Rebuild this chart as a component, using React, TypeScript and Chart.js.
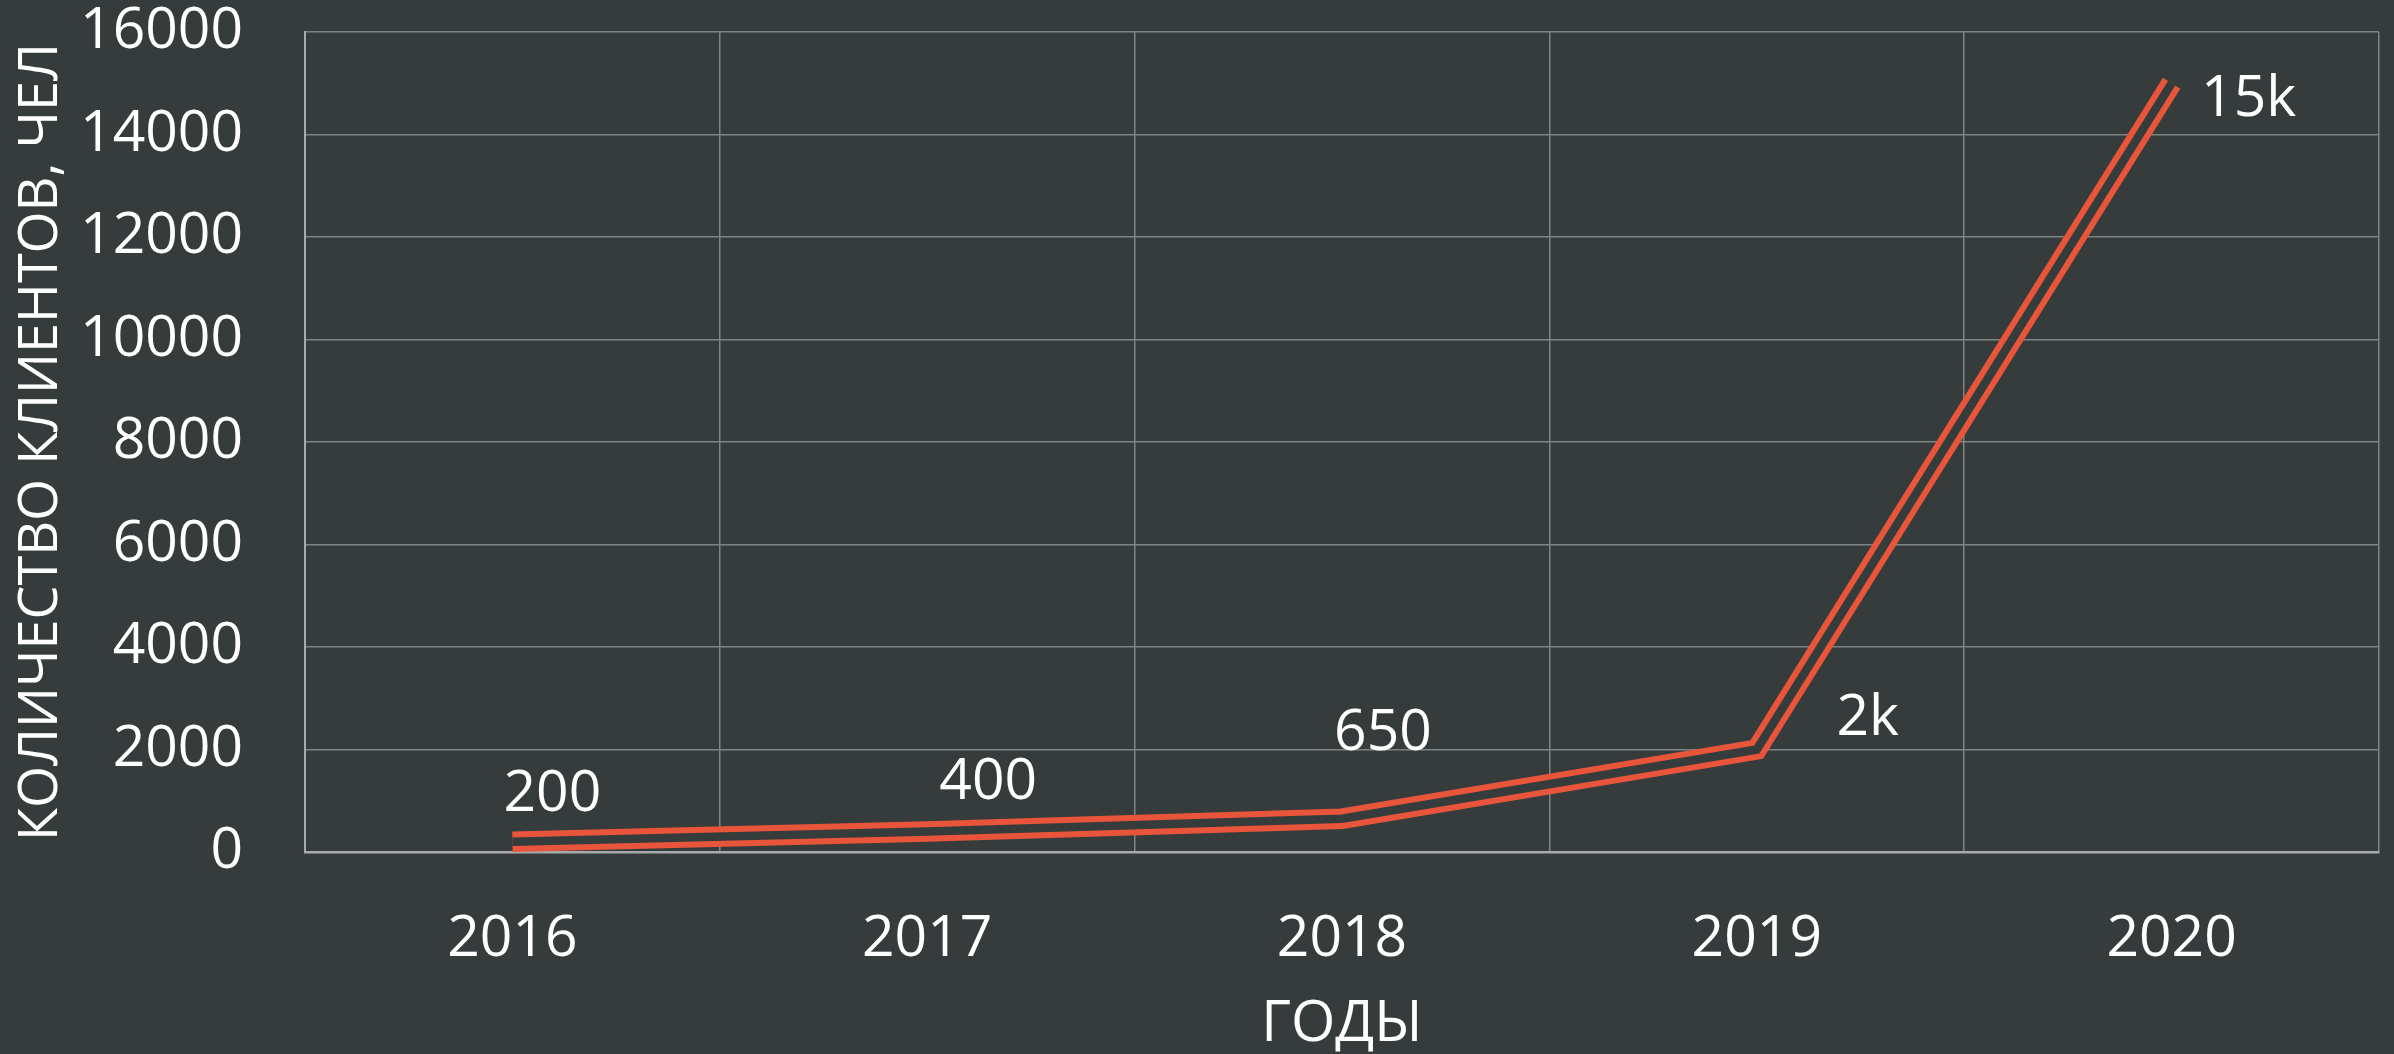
import React, { useEffect, useRef } from 'react';
import { Chart, registerables } from 'chart.js';

Chart.register(...registerables);

// ---- data ----
const years = ['2016', '2017', '2018', '2019', '2020'];
const clients = [200, 400, 650, 2000, 15000];
const pointLabels = ['200', '400', '650', '2k', '15k'];
const yMin = 0;
const yMax = 16000;
const yStep = 2000;
const xTitle = 'ГОДЫ';
const yTitle = 'КОЛИЧЕСТВО КЛИЕНТОВ, ЧЕЛ';

// ---- styles ----
const BG = '#363c3c';
const ORANGE = '#e8553a';
const GRID = '#7f8484';
const AXIS = '#a6aaaa';
const FONT = "'Open Sans', 'Noto Sans', sans-serif";
const FONT_SIZE = 57;

// label placement relative to its point, in px (dx, dy of label centre)
const labelOffsets: [number, number][] = [
  [40, -51],
  [61, -53],
  [41, -89],
  [111, -35],
  [77, 12],
];

const labelPlugin = {
  id: 'pointValueLabels',
  afterDatasetsDraw(chart: any) {
    const meta = chart.getDatasetMeta(0);
    const ctx = chart.ctx;
    ctx.save();
    ctx.font = `${FONT_SIZE}px ${FONT}`;
    ctx.fillStyle = '#ffffff';
    ctx.textAlign = 'center';
    ctx.textBaseline = 'alphabetic';
    meta.data.forEach((pt: any, i: number) => {
      const [dx, dy] = labelOffsets[i];
      ctx.fillText(pointLabels[i], pt.x + dx, pt.y + dy + FONT_SIZE * 0.357);
    });
    ctx.restore();
  },
};

export default function App() {
  const ref = useRef<HTMLCanvasElement | null>(null);

  useEffect(() => {
    if (!ref.current) return;
    const chart = new Chart(ref.current, {
      type: 'line',
      data: {
        labels: years,
        datasets: [
          {
            data: clients,
            borderColor: BG,
            borderWidth: 8.5,
            pointRadius: 0,
            tension: 0,
            order: 0,
            fill: false,
          },
          {
            data: clients,
            borderColor: ORANGE,
            borderWidth: 20.5,
            pointRadius: 0,
            tension: 0,
            order: 1,
            fill: false,
          },
        ],
      },
      options: {
        responsive: false,
        animation: false,
        devicePixelRatio: 1,
        layout: { padding: { left: 0, right: 15, top: 32, bottom: 0 } },
        plugins: { legend: { display: false }, tooltip: { enabled: false } },
        scales: {
          x: {
            offset: true,
            grid: { offset: true, color: GRID, lineWidth: 1.5, drawTicks: false },
            border: { color: AXIS, width: 2.5 },
            ticks: {
              color: '#ffffff',
              font: { size: FONT_SIZE, family: FONT },
              padding: 54,
              maxRotation: 0,
              autoSkip: false,
            },
            title: {
              display: true,
              text: xTitle,
              color: '#ffffff',
              font: { size: FONT_SIZE, family: FONT, lineHeight: 1 },
              padding: { top: 0, bottom: 1 },
            },
            afterFit: (s: any) => {
              s.height = 202;
              s.paddingLeft = 0;
              s.paddingRight = 0;
            },
          },
          y: {
            min: yMin,
            max: yMax,
            grid: { color: GRID, lineWidth: 1.5, drawTicks: false },
            border: { color: AXIS, width: 2 },
            ticks: {
              stepSize: yStep,
              color: '#ffffff',
              font: { size: FONT_SIZE, family: FONT },
              padding: 62,
              callback: (v: any) => String(v),
            },
            title: {
              display: true,
              text: yTitle,
              color: '#ffffff',
              font: { size: 54, family: FONT },
              padding: { top: 9, bottom: 0 },
            },
            afterFit: (s: any) => {
              s.width = 305;
              s.paddingTop = 0;
              s.paddingBottom = 0;
            },
          },
        },
      },
      plugins: [labelPlugin],
    } as any);
    return () => chart.destroy();
  }, []);

  return (
    <div
      style={{
        position: 'fixed',
        left: 0,
        top: 0,
        width: '2394px',
        height: '1054px',
        background: BG,
      }}
    >
      <canvas ref={ref} width={2394} height={1054} style={{ display: 'block' }} />
    </div>
  );
}
